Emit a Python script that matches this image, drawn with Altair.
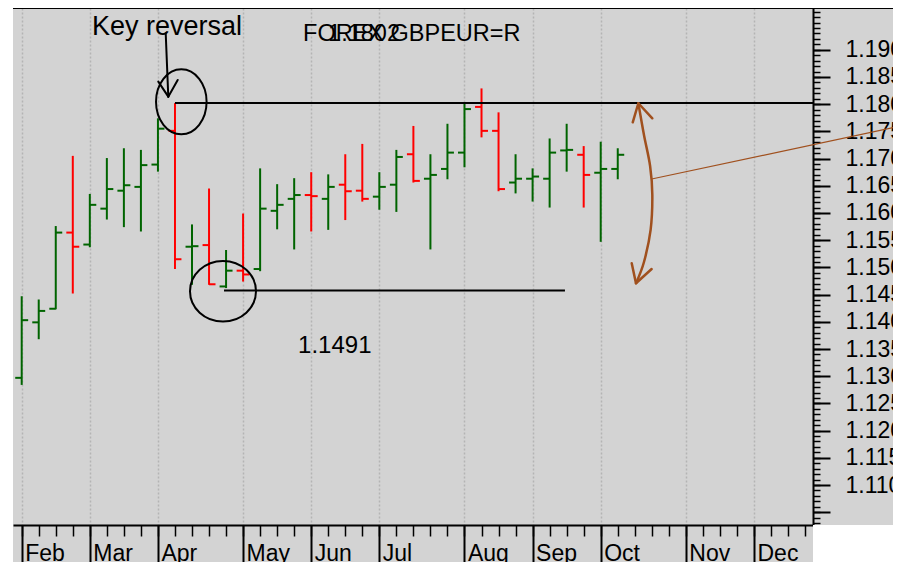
import altair as alt
import pandas as pd

# ---------------- data (weekly OHLC) ----------------
dates = ["2021-02-05", "2021-02-12", "2021-02-19", "2021-02-26",
         "2021-03-05", "2021-03-12", "2021-03-19", "2021-03-26",
         "2021-04-02", "2021-04-09", "2021-04-16", "2021-04-23", "2021-04-30",
         "2021-05-07", "2021-05-14", "2021-05-21", "2021-05-28",
         "2021-06-04", "2021-06-11", "2021-06-18", "2021-06-25",
         "2021-07-02", "2021-07-09", "2021-07-16", "2021-07-23", "2021-07-30",
         "2021-08-06", "2021-08-13", "2021-08-20", "2021-08-27",
         "2021-09-03", "2021-09-10", "2021-09-17", "2021-09-24",
         "2021-10-01", "2021-10-08"]
opens = [1.1297, 1.1399, 1.1424, 1.1564, 1.1542, 1.1608, 1.1641, 1.1648,
         1.1689, 1.1751, 1.1538, 1.1541, 1.1465, 1.1494, 1.1497, 1.1604,
         1.1626, 1.1633, 1.1626, 1.1652, 1.1641, 1.1630, 1.1652, 1.1708,
         1.1663, 1.1681, 1.1711, 1.1795, 1.1751, 1.1656, 1.1663, 1.1663,
         1.1715, 1.1707, 1.1674, 1.1681]
highs = [1.1447, 1.1441, 1.1576, 1.1705, 1.1635, 1.1701, 1.1719, 1.1716,
         1.1774, 1.1802, 1.1579, 1.1645, 1.1532, 1.1599, 1.1682, 1.1653,
         1.1664, 1.1675, 1.1671, 1.1708, 1.1727, 1.1675, 1.1716, 1.1760,
         1.1708, 1.1764, 1.1803, 1.1829, 1.1785, 1.1708, 1.1682, 1.1737,
         1.1764, 1.1723, 1.1731, 1.1719]
lows = [1.1284, 1.1368, 1.1423, 1.1452, 1.1537, 1.1588, 1.1574, 1.1566,
        1.1676, 1.1497, 1.1468, 1.1468, 1.1462, 1.1474, 1.1493, 1.1570,
        1.1533, 1.1566, 1.1569, 1.1587, 1.1621, 1.1606, 1.1602, 1.1656,
        1.1533, 1.1662, 1.1684, 1.1739, 1.1640, 1.1636, 1.1621, 1.1610,
        1.1676, 1.1610, 1.1547, 1.1662]
closes = [1.1403, 1.1420, 1.1564, 1.1538, 1.1615, 1.1644, 1.1651, 1.1688,
          1.1755, 1.1515, 1.1539, 1.1469, 1.1494, 1.1487, 1.1608, 1.1615,
          1.1633, 1.1631, 1.1648, 1.1640, 1.1626, 1.1648, 1.1703, 1.1659,
          1.1670, 1.1711, 1.1791, 1.1751, 1.1644, 1.1663, 1.1667, 1.1711,
          1.1716, 1.1670, 1.1681, 1.1707]

# axis ticks / labels (x is in weeks from the first bar)
month_names = ["Feb", "Mar", "Apr", "May", "Jun", "Jul", "Aug", "Sep", "Oct", "Nov", "Dec"]
month_weeks = [0, 4, 8, 13, 17, 21, 26, 30, 34, 39, 43]
week_ticks = list(range(0, 47))
major_ticks = [round(1.105 + 0.005 * i, 3) for i in range(18)]
minor_ticks = [round(1.103 + 0.001 * i, 3) for i in range(95)]

# annotations (in week / price units)
title_labels = ["FOREX GBPEUR=R", "1.1802"]
title_w = [16.52, 17.99]
title_p = [1.19167, 1.19167]
note_labels = ["Key reversal"]
note_w = [4.13]
note_p = [1.19272]
low_labels = ["1.1491"]
low_w = [16.23]
low_p = [1.13426]

level_w0 = [9.0, 11.88]
level_w1 = [46.465, 31.90]
level_p = [1.1802, 1.14575]

arrow_w0 = [8.456, 8.021, 9.160]
arrow_p0 = [1.19303, 1.18414, 1.18445]
arrow_w1 = [8.608, 8.608, 8.608]
arrow_p1 = [1.18138, 1.18138, 1.18138]

curve_w = [36.21, 36.54, 36.90, 37.03, 36.93, 36.54, 36.07]
curve_p = [1.18017, 1.17434, 1.16864, 1.16331, 1.15688, 1.15099, 1.14708]
head_w0 = [35.88, 37.03, 35.82, 36.99]
head_p0 = [1.17667, 1.17741, 1.15075, 1.14971]
head_w1 = [36.21, 36.21, 36.07, 36.07]
head_p1 = [1.18017, 1.18017, 1.14708, 1.14708]

pointer_w = [36.99, 51.63]
pointer_p = [1.16625, 1.17600]

ellipse_w = [9.372, 11.82]
ellipse_p = [1.18044, 1.14561]

X_DOM = [-0.511, 46.465]
Y_DOM = [1.10265, 1.19768]

# ---------------- styles ----------------
FONT = "Liberation Sans"
GREEN = "#006400"
RED = "#ff0000"
BROWN = "#a0501e"
BG = "#d3d3d3"

t0 = pd.Timestamp(dates[0])
ohlc = pd.DataFrame({
    "date": dates,
    "week": [(pd.Timestamp(d) - t0).days / 7 for d in dates],
    "open": opens, "high": highs, "low": lows, "close": closes,
})

xs = alt.Scale(domain=X_DOM, nice=False, zero=False)
ys = alt.Scale(domain=Y_DOM, nice=False, zero=False)

names_js = "[" + ",".join("'%s'" % m for m in month_names) + "]"
weeks_js = "[" + ",".join(str(w) for w in month_weeks) + "]"

month_axis = alt.Axis(
    orient="bottom", values=month_weeks,
    labelExpr=f"{names_js}[indexof({weeks_js}, datum.value)]",
    tickSize=37, tickWidth=2, tickColor="black",
    domain=True, domainColor="black", domainWidth=2,
    grid=True, gridColor="#b4b4b4", gridDash=[2, 2], gridWidth=1.5,
    labelAlign="left", labelBaseline="alphabetic", labelPadding=-2, labelOffset=3,
    labelFont=FONT, labelFontSize=23, labelColor="black",
    labelOverlap=False, labelFlush=False, labelBound=False, title=None, zindex=0)
week_axis = alt.Axis(
    orient="bottom", values=week_ticks, labels=False, tickSize=11, tickWidth=1.5,
    tickColor="black", domain=False, grid=False, title=None)
major_axis = alt.Axis(
    orient="right", values=major_ticks,
    labelExpr="datum.value < 1.1075 ? '' : format(datum.value, '.3f')",
    tickSize=17, tickWidth=2, tickColor="black",
    domain=True, domainColor="black", domainWidth=2, grid=False,
    labelPadding=15, labelFont=FONT, labelFontSize=23, labelColor="black",
    labelOverlap=False, labelFlush=False, labelBound=False, title=None)
minor_axis = alt.Axis(
    orient="right", values=minor_ticks, labels=False, tickSize=7, tickWidth=1.5,
    tickColor="black", domain=False, grid=False, title=None)

color_enc = alt.Color("dir:N", scale=alt.Scale(domain=["up", "down"], range=[GREEN, RED]), legend=None)
dir_expr = "datum.close >= datum.open ? 'up' : 'down'"

# white page outside the grey chart
white_df = pd.DataFrame({"x0": [-3.0, X_DOM[1]], "x1": [X_DOM[0], 56.0],
                         "y0": [1.05, 1.05], "y1": [1.25, Y_DOM[0]]})
white = alt.Chart(white_df).mark_rect(color="white", clip=False).encode(
    x=alt.X("x0:Q", scale=xs, axis=None), x2="x1:Q",
    y=alt.Y("y0:Q", scale=ys, axis=None), y2="y1:Q")

hl = alt.Chart(ohlc).transform_calculate(dir=dir_expr).mark_rule(strokeWidth=2).encode(
    x=alt.X("week:Q", scale=xs, axis=month_axis),
    y=alt.Y("low:Q", scale=ys, axis=major_axis), y2="high:Q",
    color=color_enc)
op = alt.Chart(ohlc).transform_calculate(dir=dir_expr, xo="datum.week - 0.38").mark_rule(strokeWidth=2).encode(
    x=alt.X("xo:Q", scale=xs, axis=week_axis), x2="week:Q",
    y=alt.Y("open:Q", scale=ys, axis=minor_axis),
    color=color_enc)
cl = alt.Chart(ohlc).transform_calculate(dir=dir_expr, xc="datum.week + 0.38").mark_rule(strokeWidth=2).encode(
    x=alt.X("week:Q", scale=xs, axis=None), x2="xc:Q",
    y=alt.Y("close:Q", scale=ys, axis=None),
    color=color_enc)

top_df = pd.DataFrame({"x0": [X_DOM[0]], "x1": [52.0], "y": [Y_DOM[1]]})
top_line = alt.Chart(top_df).mark_rule(color="black", strokeWidth=2, clip=False).encode(
    x=alt.X("x0:Q", scale=xs, axis=None), x2="x1:Q",
    y=alt.Y("y:Q", scale=ys, axis=None))

levels = alt.Chart(pd.DataFrame({"x0": level_w0, "x1": level_w1, "y": level_p})).mark_rule(
    color="black", strokeWidth=2).encode(
    x=alt.X("x0:Q", scale=xs, axis=None), x2="x1:Q",
    y=alt.Y("y:Q", scale=ys, axis=None))

arrow = alt.Chart(pd.DataFrame({"x0": arrow_w0, "y0": arrow_p0, "x1": arrow_w1, "y1": arrow_p1})).mark_rule(
    color="black", strokeWidth=2, strokeCap="round").encode(
    x=alt.X("x0:Q", scale=xs, axis=None), x2="x1:Q",
    y=alt.Y("y0:Q", scale=ys, axis=None), y2="y1:Q")

pointer = alt.Chart(pd.DataFrame({"x0": [pointer_w[0]], "y0": [pointer_p[0]],
                                  "x1": [pointer_w[1]], "y1": [pointer_p[1]]})).mark_rule(
    color=BROWN, strokeWidth=1.2, clip=False).encode(
    x=alt.X("x0:Q", scale=xs, axis=None), x2="x1:Q",
    y=alt.Y("y0:Q", scale=ys, axis=None), y2="y1:Q")

curve = alt.Chart(pd.DataFrame({"i": list(range(len(curve_w))), "w": curve_w, "p": curve_p})).mark_line(
    color=BROWN, strokeWidth=2.5, interpolate="cardinal").encode(
    x=alt.X("w:Q", scale=xs, axis=None),
    y=alt.Y("p:Q", scale=ys, axis=None),
    order="i:Q")
heads = alt.Chart(pd.DataFrame({"x0": head_w0, "y0": head_p0, "x1": head_w1, "y1": head_p1})).mark_rule(
    color=BROWN, strokeWidth=2.5, strokeCap="round").encode(
    x=alt.X("x0:Q", scale=xs, axis=None), x2="x1:Q",
    y=alt.Y("y0:Q", scale=ys, axis=None), y2="y1:Q")


def ellipse_path(rx, ry):
    k = 0.5523
    return (f"M {rx} 0 C {rx} {k*ry} {k*rx} {ry} 0 {ry} "
            f"C {-k*rx} {ry} {-rx} {k*ry} {-rx} 0 "
            f"C {-rx} {-k*ry} {-k*rx} {-ry} 0 {-ry} "
            f"C {k*rx} {-ry} {rx} {-k*ry} {rx} 0 Z")


ell1 = alt.Chart(pd.DataFrame({"w": [ellipse_w[0]], "p": [ellipse_p[0]]})).mark_point(
    shape=ellipse_path(0.778, 1.0), size=4225, filled=False, color="black",
    strokeWidth=2, opacity=1).encode(
    x=alt.X("w:Q", scale=xs, axis=None), y=alt.Y("p:Q", scale=ys, axis=None))
ell2 = alt.Chart(pd.DataFrame({"w": [ellipse_w[1]], "p": [ellipse_p[1]]})).mark_point(
    shape=ellipse_path(1.0, 0.918), size=4356, filled=False, color="black",
    strokeWidth=2, opacity=1).encode(
    x=alt.X("w:Q", scale=xs, axis=None), y=alt.Y("p:Q", scale=ys, axis=None))


def text_layer(labels, ws, ps, size):
    return alt.Chart(pd.DataFrame({"t": labels, "w": ws, "p": ps})).mark_text(
        align="left", baseline="alphabetic", font=FONT, fontSize=size, color="black").encode(
        x=alt.X("w:Q", scale=xs, axis=None), y=alt.Y("p:Q", scale=ys, axis=None), text="t:N")


titles = text_layer(title_labels, title_w, title_p, 23.5)
note = text_layer(note_labels, note_w, note_p, 27)
lowlab = text_layer(low_labels, low_w, low_p, 24)

chart = alt.layer(
    white, hl, op, cl, top_line, levels, arrow, pointer, curve, heads, ell1, ell2,
    titles, note, lowlab
).resolve_scale(x="shared", y="shared").resolve_axis(x="independent", y="independent").properties(
    width=800, height=517,
    autosize=alt.AutoSizeParams(type="none"),
    padding={"left": 5, "top": 0, "right": 80, "bottom": 37},
    background=BG,
).configure_view(stroke=None)

chart.save("out.html", embed_options={"renderer": "svg", "actions": False})
